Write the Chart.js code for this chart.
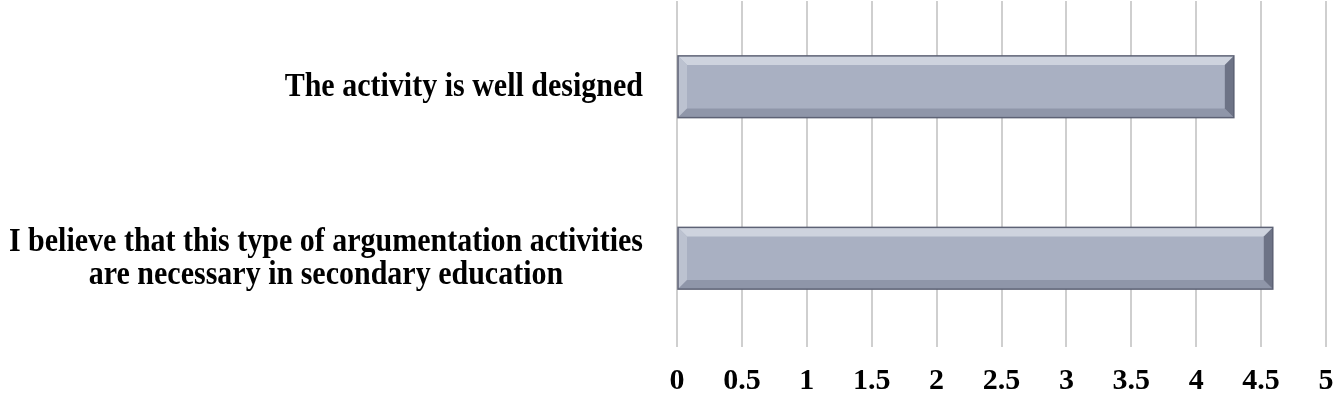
<!DOCTYPE html>
<html>
<head>
<meta charset="utf-8">
<script src="https://cdn.jsdelivr.net/npm/chart.js@4/dist/chart.umd.min.js"></script>
<style>
  html, body { margin: 0; padding: 0; background: #fff; }
  #wrap { width: 1335px; height: 396px; }
</style>
</head>
<body>
<div id="wrap"><canvas id="myChart"></canvas></div>
<script>
// data
var categories = [
  ['The activity is well designed'],
  ['I believe that this type of argumentation activities', 'are necessary in secondary education']
];
var scores = [4.29, 4.59];
var tickValues = [0, 0.5, 1, 1.5, 2, 2.5, 3, 3.5, 4, 4.5, 5];

var labelFont = 'bold 30px "Liberation Serif", "Times New Roman", serif';

// category labels: block right-aligned, lines centred inside it
var catLabels = {
  id: 'catLabels',
  afterDraw: function(chart) {
    var ctx = chart.ctx, y = chart.scales.y;
    var right = chart.chartArea.left - 34;
    var sy = 1.15; // the source text looks a bit taller than normal
    ctx.save();
    ctx.font = labelFont;
    ctx.fillStyle = '#000';
    ctx.textAlign = 'center';
    ctx.textBaseline = 'middle';
    categories.forEach(function(lines, i) {
      var w = 0;
      lines.forEach(function(l) { w = Math.max(w, ctx.measureText(l).width); });
      var cx = right - w / 2;
      var lh = 33;
      var cy = y.getPixelForValue(i) - (lines.length - 1) * lh / 2;
      lines.forEach(function(l, k) {
        ctx.save();
        ctx.translate(cx, cy + k * lh);
        ctx.scale(1, sy);
        ctx.fillText(l, 0, 0);
        ctx.restore();
      });
    });
    ctx.restore();
  }
};

// bevel look on the bars
var bevel = {
  id: 'bevel',
  afterDatasetsDraw: function(chart) {
    var ctx = chart.ctx;
    chart.getDatasetMeta(0).data.forEach(function(bar) {
      var x0 = bar.base, x1 = bar.x, t = bar.y - bar.height / 2, b = bar.y + bar.height / 2;
      var d = 9;
      ctx.save();
      // top
      ctx.fillStyle = '#ced3de';
      ctx.beginPath(); ctx.moveTo(x0, t); ctx.lineTo(x1, t); ctx.lineTo(x1 - d, t + d); ctx.lineTo(x0 + d, t + d); ctx.closePath(); ctx.fill();
      // left
      ctx.fillStyle = '#bcc2d0';
      ctx.beginPath(); ctx.moveTo(x0, t); ctx.lineTo(x0 + d, t + d); ctx.lineTo(x0 + d, b - d); ctx.lineTo(x0, b); ctx.closePath(); ctx.fill();
      // bottom
      ctx.fillStyle = '#8f96a9';
      ctx.beginPath(); ctx.moveTo(x0, b); ctx.lineTo(x0 + d, b - d); ctx.lineTo(x1 - d, b - d); ctx.lineTo(x1, b); ctx.closePath(); ctx.fill();
      // right end
      ctx.fillStyle = '#6d7386';
      ctx.beginPath(); ctx.moveTo(x1, t); ctx.lineTo(x1, b); ctx.lineTo(x1 - d, b - d); ctx.lineTo(x1 - d, t + d); ctx.closePath(); ctx.fill();
      ctx.strokeStyle = '#5d6275';
      ctx.lineWidth = 1.5;
      ctx.strokeRect(x0, t, x1 - x0, b - t);
      ctx.restore();
    });
  }
};

var ctx = document.getElementById('myChart');
var myChart = new Chart(ctx, {
  type: 'bar',
  data: {
    labels: categories,
    datasets: [{
      data: scores,
      backgroundColor: '#a9b0c2',
      borderWidth: 0,
      barPercentage: 0.36,
      categoryPercentage: 1
    }]
  },
  options: {
    indexAxis: 'y',
    responsive: true,
    maintainAspectRatio: false,
    animation: false,
    events: [],
    layout: { padding: { left: 669, right: 9, top: 1, bottom: 0 } },
    plugins: { legend: { display: false }, tooltip: { enabled: false } },
    scales: {
      x: {
        min: 0,
        max: 5,
        afterBuildTicks: function(scale) {
          scale.ticks = tickValues.map(function(v) { return { value: v }; });
        },
        afterFit: function(scale) {
          scale.height = 52;
          scale.paddingLeft = 0;
          scale.paddingRight = 0;
        },
        grid: { color: '#cfcfcf', lineWidth: 2, tickLength: 3 },
        border: { display: false },
        ticks: {
          color: '#000',
          padding: 16,
          maxRotation: 0,
          callback: function(v) { return String(v); },
          font: { family: '"Liberation Serif", "Times New Roman", serif', size: 30, weight: 'bold' }
        }
      },
      y: {
        grid: { display: false },
        border: { display: false },
        ticks: { display: false }
      }
    }
  },
  plugins: [bevel, catLabels]
});
</script>
</body>
</html>
